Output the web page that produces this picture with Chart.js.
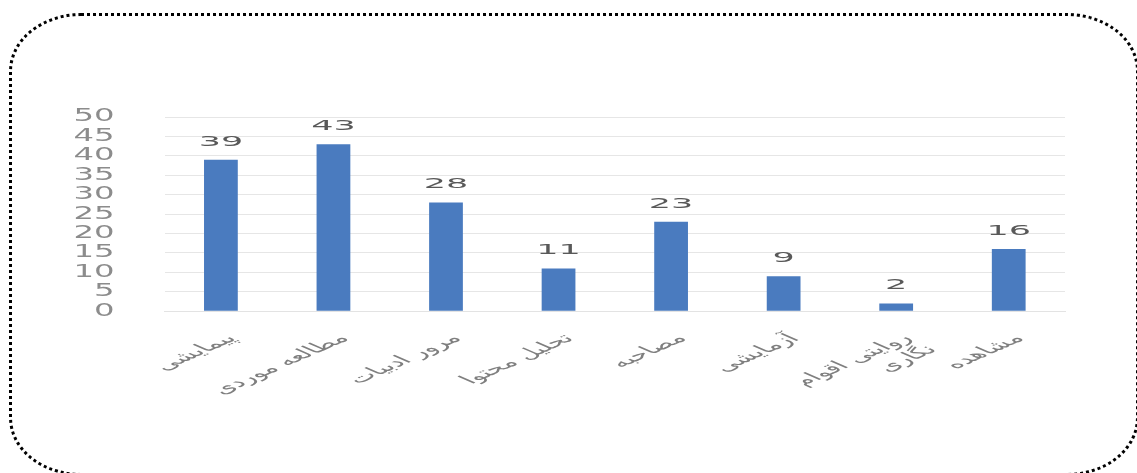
<!DOCTYPE html>
<html>
<head>
<meta charset="utf-8">
<script src="https://cdn.jsdelivr.net/npm/chart.js@4"></script>
<style>
  html,body{margin:0;padding:0;background:#fff;width:1137px;height:473px;overflow:hidden;}
  #frame{position:absolute;left:9px;top:13px;width:1130px;height:463px;border:3px dotted #000;border-radius:72px / 58px;box-sizing:border-box;}
  #wrap{position:absolute;left:0;top:0;width:1137px;height:473px;}
</style>
</head>
<body>
<div id="frame"></div>
<div id="wrap"><canvas id="c"></canvas></div>
<script>
const categories = [
  'پیمایشی',
  'مطالعه موردی',
  'مرور ادبیات',
  'تحلیل محتوا',
  'مصاحبه',
  'آزمایشی',
  ['روایتی اقوام', 'نگاری'],
  'مشاهده'
];
const values = [39, 43, 28, 11, 23, 9, 2, 16];
const yTicks = [0, 5, 10, 15, 20, 25, 30, 35, 40, 45, 50];

// horizontal stretch of the text (the reference picture is widened)
const SX_LABEL = 2.3;
const SX_Y = 1.9;
const SX_VAL = 2.5;

const valueLabels = {
  id: 'valueLabels',
  afterDatasetsDraw(chart) {
    const ctx = chart.ctx;
    const meta = chart.getDatasetMeta(0);
    meta.data.forEach((bar, i) => {
      ctx.save();
      ctx.font = '14px "DejaVu Sans"';
      ctx.fillStyle = '#595959';
      ctx.textAlign = 'center';
      ctx.textBaseline = 'alphabetic';
      ctx.translate(bar.x, bar.y - 14);
      ctx.scale(SX_VAL, 1);
      ctx.fillText(String(values[i]), 0, 0);
      ctx.restore();
    });
  }
};

function stretchScale(sc, sx) {
  if (!sc || sc._stretched) return;
  sc._stretched = true;
  const orig = sc.drawLabels.bind(sc);
  sc.drawLabels = function (area) {
    const ctx = this.ctx;
    const proto = Object.getPrototypeOf(ctx);
    ctx.rotate = function (a) { proto.scale.call(ctx, sx, 1); proto.rotate.call(ctx, a); };
    try { orig(area); } finally { delete ctx.rotate; }
  };
}

const stretchText = {
  id: 'stretchText',
  afterLayout(chart) {
    stretchScale(chart.scales.x, SX_LABEL);
    stretchScale(chart.scales.y, SX_Y);
  }
};

new Chart(document.getElementById('c'), {
  type: 'bar',
  data: {
    labels: categories,
    datasets: [{
      data: values,
      backgroundColor: '#4a7bbf',
      borderWidth: 0,
      barPercentage: 0.6,
      categoryPercentage: 0.5
    }]
  },
  options: {
    responsive: true,
    maintainAspectRatio: false,
    animation: false,
    layout: { padding: { left: 43, right: 72, top: 117, bottom: 44 } },
    plugins: { legend: { display: false }, tooltip: { enabled: false } },
    scales: {
      x: {
        grid: { display: false, drawTicks: false },
        border: { display: true, color: '#e3e3e3' },
        ticks: {
          minRotation: 45, maxRotation: 45,
          autoSkip: false,
          color: '#7f7f7f',
          font: { family: '"DejaVu Sans"', size: 13 },
          padding: 20,
          labelOffset: 4
        }
      },
      y: {
        min: 0, max: 50,
        afterBuildTicks(scale) { scale.ticks = yTicks.map(v => ({ value: v })); },
        grid: { color: '#e6e6e6', drawTicks: false },
        border: { display: false },
        ticks: {
          autoSkip: false,
          color: '#8c8c8c',
          font: { family: '"DejaVu Sans"', size: 17, lineHeight: 1 },
          padding: 50
        }
      }
    }
  },
  plugins: [valueLabels, stretchText]
});
</script>
</body>
</html>
